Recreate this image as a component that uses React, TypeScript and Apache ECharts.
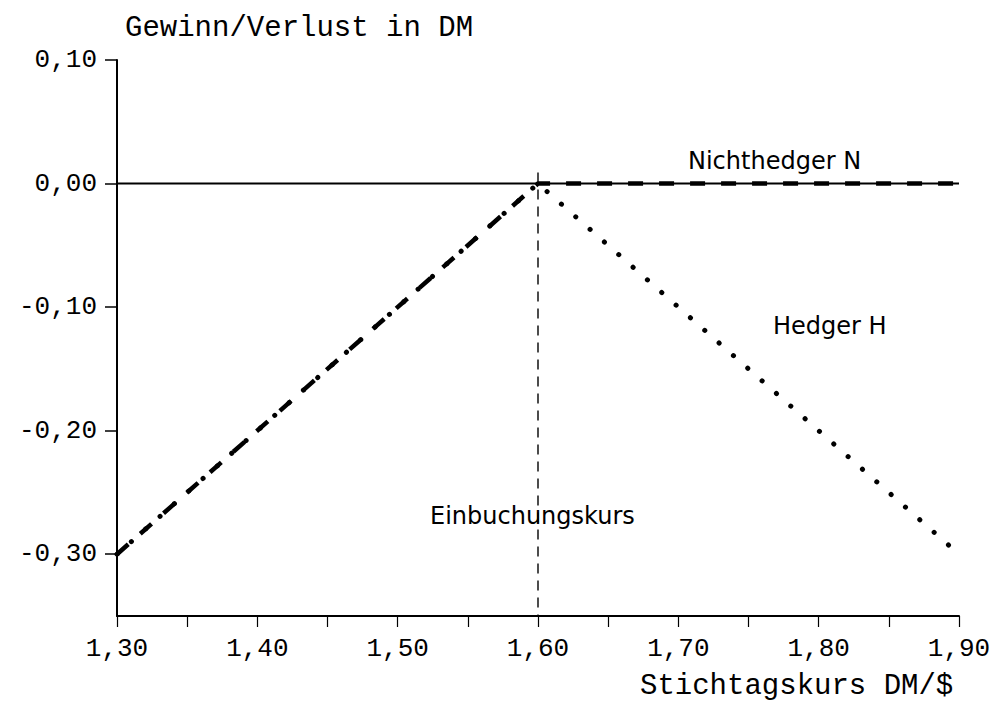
import React, { useEffect, useRef } from "react";
import * as echarts from "echarts";

const xLabelTicks = [1.3, 1.4, 1.5, 1.6, 1.7, 1.8, 1.9];
const xAllTicks = [1.3, 1.35, 1.4, 1.45, 1.5, 1.55, 1.6, 1.65, 1.7, 1.75, 1.8, 1.85, 1.9];
const yTicks = [-0.3, -0.2, -0.1, 0, 0.1];

const hedgerH: [number, number][] = [
  [1.3, -0.3],
  [1.6, 0],
  [1.9, -0.3],
];
const nichthedgerN: [number, number][] = [
  [1.3, -0.3],
  [1.6, 0],
  [1.9, 0],
];
const zeroLine: [number, number][] = [
  [1.3, 0],
  [1.9, 0],
];
const einbuchungskurs: [number, number][] = [
  [1.6, 0.009],
  [1.6, -0.35],
];

const fmt = (v: number) => v.toFixed(2).replace(".", ",");

const MONO = "Liberation Mono";
const SANS = "DejaVu Sans";

export default function App() {
  const ref = useRef<HTMLDivElement>(null);
  useEffect(() => {
    if (!ref.current) return;
    const chart = echarts.init(ref.current, null, { renderer: "svg" });
    chart.setOption({
      animation: false,
      backgroundColor: "#fff",
      grid: {
        left: 117,
        right: 33,
        top: 60,
        bottom: 97,
        containLabel: false,
        outerBoundsMode: "none",
      },
      xAxis: {
        type: "value",
        min: 1.3,
        max: 1.9,
        axisLine: { show: true, onZero: false, lineStyle: { color: "#000", width: 2 } },
        axisTick: {
          show: true,
          length: 11,
          customValues: xAllTicks,
          lineStyle: { color: "#000", width: 1.2 },
        },
        axisLabel: {
          customValues: xLabelTicks,
          formatter: (v: number) => fmt(v),
          fontFamily: MONO,
          fontSize: 26,
          color: "#000",
          margin: 20,
        },
        splitLine: { show: false },
      },
      yAxis: {
        type: "value",
        min: -0.35,
        max: 0.1,
        axisLine: { show: true, onZero: false, lineStyle: { color: "#000", width: 2 } },
        axisTick: {
          show: true,
          length: 12,
          customValues: yTicks,
          lineStyle: { color: "#000", width: 1.5 },
        },
        axisLabel: {
          customValues: yTicks,
          formatter: (v: number) => fmt(v),
          fontFamily: MONO,
          fontSize: 26,
          color: "#000",
          margin: 20,
        },
        splitLine: { show: false },
      },
      graphic: [
        {
          type: "text",
          left: 125,
          top: 14,
          style: { text: "Gewinn/Verlust in DM", font: `29px "${MONO}"`, fill: "#000" },
        },
        {
          type: "text",
          left: 640,
          top: 672,
          style: { text: "Stichtagskurs DM/$", font: `29px "${MONO}"`, fill: "#000" },
        },
        {
          type: "text",
          left: 688,
          top: 149,
          style: { text: "Nichthedger N", font: `24px "${SANS}"`, fill: "#000" },
        },
        {
          type: "text",
          left: 773,
          top: 314,
          style: { text: "Hedger H", font: `24px "${SANS}"`, fill: "#000" },
        },
        {
          type: "text",
          left: 430,
          top: 504,
          style: { text: "Einbuchungskurs", font: `24px "${SANS}"`, fill: "#000" },
        },
      ],
      series: [
        {
          name: "Null",
          type: "line",
          data: zeroLine,
          symbol: "none",
          lineStyle: { color: "#000", width: 2 },
          z: 1,
        },
        {
          name: "Einbuchungskurs",
          type: "line",
          data: einbuchungskurs,
          symbol: "none",
          lineStyle: { color: "#000", width: 1.4, type: [10, 7] },
          z: 1,
        },
        {
          name: "Nichthedger N",
          type: "line",
          data: nichthedgerN,
          symbol: "none",
          lineStyle: { color: "#000", width: 4.5, type: [15, 16] },
          z: 3,
        },
        {
          name: "Hedger H",
          type: "line",
          data: hedgerH,
          symbol: "none",
          lineStyle: { color: "#000", width: 5, type: [0.1, 19], cap: "round" },
          z: 4,
        },
      ],
    });
    return () => chart.dispose();
  }, []);
  return (
    <div
      ref={ref}
      style={{ position: "absolute", left: 0, top: 0, width: 992, height: 713 }}
    />
  );
}
